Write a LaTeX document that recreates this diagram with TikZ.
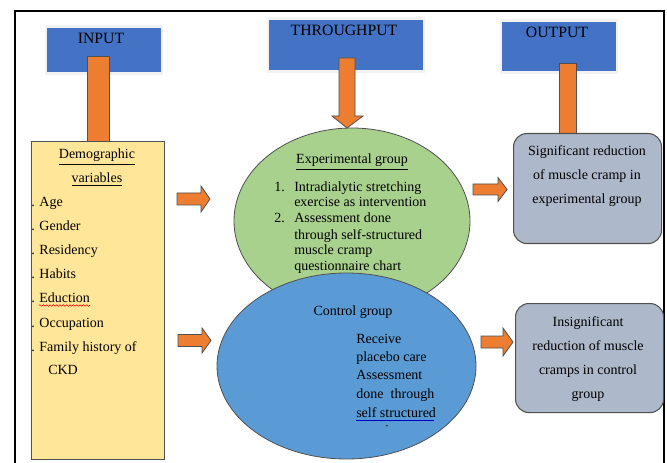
\documentclass[tikz,border=0pt]{standalone}
\usepackage{fontspec}
\setmainfont{Liberation Serif}
\usetikzlibrary{shapes.geometric,decorations.pathmorphing}
\definecolor{hdrblue}{HTML}{4472C4}
\definecolor{hdredge}{HTML}{F2F2F2}
\definecolor{hdrshadow}{HTML}{A3ABBD}
\definecolor{orng}{HTML}{ED7D31}
\definecolor{edgegray}{HTML}{505050}
\definecolor{yel}{HTML}{FFE699}
\definecolor{grn}{HTML}{A9D18E}
\definecolor{blu}{HTML}{5B9BD5}
\definecolor{gry}{HTML}{ADB9CA}
\newcommand{\rblockarrow}[6]{%
  \draw[oshape] (#1,#4-#5) -- (#2,#4-#5) -- (#2,#4-#6) -- (#3,#4) -- (#2,#4+#6) -- (#2,#4+#5) -- (#1,#4+#5) -- cycle;}
\begin{document}
\begin{tikzpicture}[x=0.75pt,y=-0.75pt,
  every node/.style={font=\fontsize{10.5}{12}\selectfont, inner sep=0pt, text=black},
  hdr/.style={draw=hdredge, line width=2.2pt, fill=hdrblue, anchor=north west},
  hdrtext/.style={font=\fontsize{11.8}{13}\selectfont, anchor=base},
  oshape/.style={fill=orng, draw=edgegray, line width=0.6pt, line join=miter},
  ybox/.style={draw=edgegray, line width=0.6pt, fill=yel, anchor=north west},
  oval/.style={ellipse, draw=edgegray, line width=0.6pt},
  gbox/.style={draw=edgegray, line width=0.8pt, fill=gry, rounded corners=10pt, anchor=north west},
  lt/.style={anchor=base west},
  ct/.style={anchor=base}]
\useasboundingbox (0,0) rectangle (667,463);
% frame
\draw[line width=1pt] (15,463) -- (15,11) -- (664,11) -- (664,463);
% headers
\fill[hdrshadow] (46,27) rectangle (163,75);
\node[hdr, minimum width=87pt, minimum height=35.25pt] (input) at (44.5,25.5) {};
\node[hdrtext] (inputt) at (101,44) {INPUT};
\fill[hdrshadow] (268,19) rectangle (425,73);
\node[hdr, minimum width=117pt, minimum height=39.75pt] (through) at (266.5,17.5) {};
\node[hdrtext] (throught) at (344,36) {THROUGHPUT};
\fill[hdrshadow] (501,21) rectangle (618,74);
\node[hdr, minimum width=87pt, minimum height=39pt] (output) at (499.5,19.5) {};
\node[hdrtext] (outputt) at (557,38) {OUTPUT};
% yellow box
\node[ybox, minimum width=99.75pt, minimum height=238.5pt] (demo) at (31,141) {};
% orange bars
\draw[oshape] (87,56) rectangle (109,141);
\draw[oshape] (559,63) rectangle (576,133);
% ellipses
\node[oval, fill=grn, minimum width=177pt, minimum height=139.5pt] (exp) at (352,221) {};
\node[oval, fill=blu, minimum width=194.25pt, minimum height=139.5pt] (ctrl) at (346.5,366) {};
% throughput arrow
\draw[oshape] (339,58) -- (355,58) -- (355,116) -- (363,116) -- (347,128) -- (332,116) -- (339,116) -- cycle;
% grey output boxes
\node[gbox, minimum width=111pt, minimum height=82.5pt] (sig) at (513,133) {};
\node[gbox, minimum width=111pt, minimum height=81.75pt] (insig) at (515,303) {};
% side arrows
\rblockarrow{177}{201}{210}{199}{6}{13}
\rblockarrow{178}{202}{211}{340.5}{6}{12.5}
\rblockarrow{473}{498}{507}{189.5}{5.5}{12}
\rblockarrow{481}{503}{513}{342}{6}{14}
% demographic text
\node[ct] (d1) at (97,159) {\underline{Demographic}};
\node[ct] (d2) at (97,183) {\underline{variables}};
\node[lt] (d3) at (31,207) {. Age};
\node[lt] (d4) at (31,231) {. Gender};
\node[lt] (d5) at (31,254) {. Residency};
\node[lt] (d6) at (31,278) {. Habits};
\node[lt] (d7) at (31,302) {. Eduction};
\draw[red, line width=0.4pt, decorate, decoration={snake, amplitude=0.6pt, segment length=2.5pt}] (39,305.5) -- (90,305.5);
\node[lt] (d8) at (31,327) {. Occupation};
\node[lt] (d9) at (31,351) {. Family history of};
\node[lt] (d10) at (48,374) {CKD};
% experimental text
\node[ct] (e0) at (352,164) {\underline{Experimental group}};
\node[lt] (n1) at (274,192) {1.};
\node[lt] (e1) at (294,192) {Intradialytic stretching};
\node[lt] (e2) at (294,207) {exercise as intervention};
\node[lt] (n2) at (274,223) {2.};
\node[lt] (e3) at (294,223) {Assessment done};
\node[lt] (e4) at (294,239) {through self-structured};
\node[lt] (e5) at (294,255) {muscle cramp};
\node[lt] (e6) at (294,271) {questionnaire chart};
% control text
\node[ct] (c0) at (353,315) {Control group};
\node[lt] (c1) at (356,343) {Receive};
\node[lt] (c2) at (356,361) {placebo care};
\node[lt] (c3) at (356,379) {Assessment};
\node[lt] (c4) at (356,398) {\makebox[58.5pt][s]{done\hfill through}};
\node[lt] (c5) at (356,417) {self structured};
\draw[blue!80!black, line width=0.6pt] (356,420) -- (434,420);
\node[ct, font=\fontsize{7}{8}\selectfont] (c6) at (387,428) {-};
% output texts
\node[ct] (s1) at (587,156) {Significant reduction};
\node[ct] (s2) at (587,180) {of muscle cramp in};
\node[ct] (s3) at (587,204) {experimental group};
\node[ct] (i1) at (588,326) {Insignificant};
\node[ct] (i2) at (588,350) {reduction of muscle};
\node[ct] (i3) at (588,374) {cramps in control};
\node[ct] (i4) at (588,398) {group};
\end{tikzpicture}
\end{document}
